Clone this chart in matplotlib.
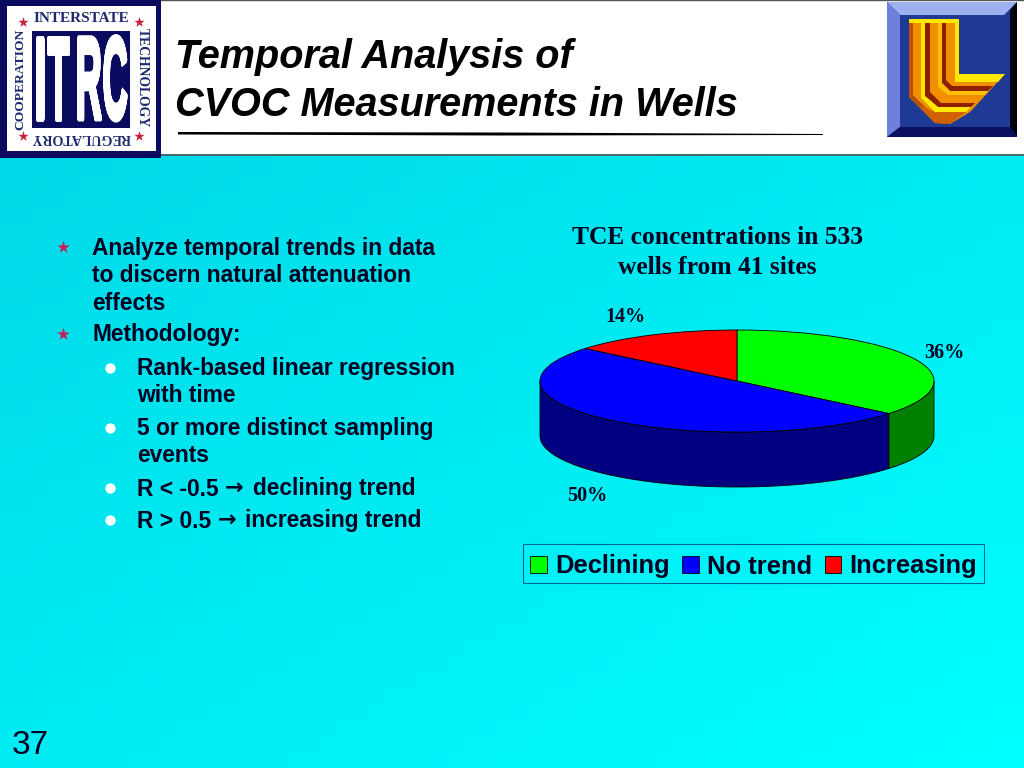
import numpy as np
import matplotlib
matplotlib.use("Agg")
import matplotlib.pyplot as plt
import matplotlib.patheffects as pe
from matplotlib.patches import Polygon, Rectangle

# === data ===
categories = ["Declining", "No trend", "Increasing"]
percentages = [36, 50, 14]
top_colors = ["#00FF00", "#0000FF", "#FF0000"]
side_colors = ["#008000", "#000080", "#800000"]

title_lines = ["Temporal Analysis of", "CVOC Measurements in Wells"]
chart_title = ["TCE concentrations in 533", "wells from 41 sites"]
page_number = "37"

star_items = [("Analyze temporal trends in data", 247), ("to discern natural attenuation", 275),
              ("effects", 302), ("Methodology:", 334)]
dot_items = [("Rank-based linear regression", 368), ("with time", 395),
             ("5 or more distinct sampling", 428), ("events", 455),
             ("R < -0.5", 488), ("R > 0.5", 520)]
arrow_items = [("declining trend", 488, 234, 253), ("increasing trend", 520, 227, 245)]
star_y = [247, 334]
dot_y = [368, 428, 488, 520]

# pie geometry in pixels
CX, CY, RX, RY, DEPTH = 737, 381, 197, 51, 55
SANS = "Liberation Sans"
SERIF = "Liberation Serif"
INK = "#000020"

fig = plt.figure(figsize=(10.24, 7.68), dpi=100)
ax = fig.add_axes([0, 0, 1, 1])
ax.set_xlim(0, 1024)
ax.set_ylim(768, 0)
ax.axis("off")

# background gradient
gx, gy = np.meshgrid(np.linspace(0, 1, 64), np.linspace(0, 1, 48))
g = 0.45 * gx + 0.55 * gy
bg = np.dstack([np.zeros_like(g), (212 + 43 * g) / 255, (228 + 27 * g) / 255])
ax.imshow(bg, extent=(0, 1024, 768, 0), aspect="auto", zorder=0)

# header band
ax.add_patch(Rectangle((160, 0), 864, 154, fc="white", ec="none", zorder=1))
ax.plot([160, 1024], [154.5, 154.5], color="#555555", lw=1.2, zorder=2)
ax.plot([160, 1024], [0.3, 0.3], color="#555555", lw=1, zorder=2)

ax.text(175, 57, title_lines[0], family=SANS, weight="bold", style="italic", fontsize=28.5,
        va="center", ha="left", color="black", zorder=3)
ax.text(175, 105, title_lines[1], family=SANS, weight="bold", style="italic", fontsize=28.5,
        va="center", ha="left", color="black", zorder=3)
ax.add_patch(Polygon([(178, 132), (500, 132.5), (823, 134), (823, 135), (500, 135.5), (178, 134.5)],
                     fc="black", ec="none", zorder=3))


# === ITRC logo ===
def squeeze(sx):
    # narrows a drawn letter sideways about its own centre
    def flt(im, dpi):
        h, w = im.shape[:2]
        nw = max(int(round(w * sx)), 1)
        pos = (np.arange(nw) + 0.5) / sx - 0.5
        out = np.zeros((h, nw, im.shape[2]), dtype=im.dtype)
        for r in range(h):
            for c in range(im.shape[2]):
                out[r, :, c] = np.interp(pos, np.arange(w), im[r, :, c])
        return out, int((w - nw) / 2), 0
    return flt


ax.add_patch(Rectangle((0, 0), 161, 158, fc="#0A0A5E", ec="none", zorder=2))
ax.add_patch(Rectangle((7, 6), 149, 145, fc="white", ec="none", zorder=2))
ax.add_patch(Rectangle((32, 31), 98, 97, fc="#0A0A5E", ec="none", zorder=3))
for letter, lx, sx in [("I", 40.5, 0.36), ("T", 58, 0.31), ("R", 87, 0.31), ("C", 114.5, 0.30)]:
    t = ax.text(lx, 88, letter, family=SANS, weight="bold", fontsize=83, color="white",
                ha="center", va="center", zorder=4)
    t.set_path_effects([pe.withStroke(linewidth=5, foreground="white")])
    t.set_agg_filter(squeeze(sx))
logo_kw = dict(family=SERIF, weight="bold", color="#1E2A6E", ha="center", va="center", zorder=4)
ax.text(81, 18, "INTERSTATE", fontsize=11, **logo_kw)
ax.text(81, 137, "REGULATORY", rotation=180, fontsize=10.2, **logo_kw)
ax.text(20, 79, "COOPERATION", rotation=90, fontsize=9.7, **logo_kw)
ax.text(142, 78, "TECHNOLOGY", rotation=-90, fontsize=9.8, **logo_kw)
ax.scatter([23, 139, 23, 139], [22, 22, 136, 136], marker="*", s=60, color="#C8203C", lw=0, zorder=4)

# === L logo ===
ax.add_patch(Rectangle((887, 2), 130, 135, fc="#1F3A94", ec="none", zorder=2))
ax.add_patch(Polygon([(887, 2), (1017, 2), (1004, 15), (900, 15)], fc="#9DB0F0", ec="none", zorder=3))
ax.add_patch(Polygon([(887, 2), (900, 15), (900, 127), (887, 137)], fc="#6C80DC", ec="none", zorder=3))
ax.add_patch(Polygon([(1017, 2), (1017, 137), (1010, 127), (1010, 10)], fc="#000010", ec="none", zorder=3))
ax.add_patch(Polygon([(887, 137), (900, 127), (1010, 127), (1017, 137)], fc="#0A1260", ec="none", zorder=3))
ax.add_patch(Polygon([(909, 19), (959, 19), (959, 74), (1005, 74), (970, 112), (950, 124), (935, 123), (909, 97)],
                     fc="#F09000", ec="none", zorder=4))
for pts, col in [([(909, 19), (913, 19), (913, 95), (938, 120), (950, 124), (935, 123), (909, 97)], "#B85000"),
                 ([(918, 105), (935, 112), (966, 112), (950, 124), (935, 123)], "#D06000"),
                 ([(925, 19), (930, 19), (930, 92), (941, 103), (975, 103), (971, 107), (938, 107), (925, 96)], "#8C2000"),
                 ([(921, 19), (925, 19), (925, 96), (938, 107), (971, 107), (966, 112), (935, 112), (921, 98)], "#FFE800"),
                 ([(942, 19), (946, 19), (946, 80), (952, 86), (993, 86), (988, 91), (950, 91), (942, 83)], "#8C2000"),
                 ([(938, 19), (942, 19), (942, 83), (950, 91), (988, 91), (985, 95), (948, 95), (938, 87)], "#FFC000"),
                 ([(955, 19), (959, 19), (959, 74), (1005, 74), (998, 82), (955, 82)], "#FFE800"),
                 ([(909, 19), (959, 19), (959, 23), (909, 23)], "#FFE800")]:
    ax.add_patch(Polygon(pts, fc=col, ec="none", zorder=5))

# === bullet text ===
for label, y in star_items:
    ax.text(92, y + 1, label, family=SANS, weight="bold", fontsize=16.4, va="center", ha="left", color=INK, zorder=3)
for label, y in dot_items:
    ax.text(137, y + 1, label, family=SANS, weight="bold", fontsize=16.4, va="center", ha="left", color=INK, zorder=3)
for label, y, ax_x, lx in arrow_items:
    ax.text(ax_x, y, "\u2192", family="DejaVu Sans", weight="bold", fontsize=16, va="center", ha="center",
            color=INK, zorder=3)
    ax.text(lx, y + 1, label, family=SANS, weight="bold", fontsize=16.4, va="center", ha="left", color=INK, zorder=3)
ax.scatter([63] * len(star_y), star_y, marker="*", s=90, color="#C81E5A", lw=0, zorder=3)
ax.scatter([110] * len(dot_y), dot_y, marker="o", s=55, color="white", lw=0, zorder=3)

ax.text(12, 745, page_number, family=SANS, fontsize=24, va="center", ha="left", color=INK, zorder=3)

# === chart title ===
ax.text(717, 237, chart_title[0], family=SERIF, weight="bold", fontsize=18.4, ha="center", va="center",
        color=INK, zorder=3)
ax.text(717, 267, chart_title[1], family=SERIF, weight="bold", fontsize=18.4, ha="center", va="center",
        color=INK, zorder=3)

# === pie ===
PAD = 4  # px round the disc so edges do not clip
pie_ax = fig.add_axes([(CX - RX - PAD) / 1024, 1 - (CY + RY + DEPTH + PAD) / 768,
                       (2 * RX + 2 * PAD) / 1024, (2 * RY + DEPTH + 2 * PAD) / 768])
wedges, _ = pie_ax.pie(percentages, colors=top_colors, startangle=90, counterclock=False,
                       wedgeprops=dict(edgecolor="black", linewidth=0.6, zorder=3))
pie_ax.set_aspect("auto")
pie_ax.set_xlim(-1 - PAD / RX, 1 + PAD / RX)
pie_ax.set_ylim(-1 - DEPTH / RY - PAD / RY, 1 + PAD / RY)
pie_ax.patch.set_alpha(0)

# side wall: front half of the rim only
depth = DEPTH / RY
edges = np.cumsum([0] + percentages) * 3.6
for i, col in enumerate(side_colors):
    a, b = max(edges[i], 90), min(edges[i + 1], 270)
    if a >= b:
        continue
    t = np.radians(np.linspace(a, b, 120))
    xs = np.concatenate([np.sin(t), np.sin(t[::-1])])
    ys = np.concatenate([np.cos(t), np.cos(t[::-1]) - depth])
    pie_ax.fill(xs, ys, fc=col, ec="black", lw=0.6, zorder=2)

label_pos = [(944, 353), (587, 496), (625, 317)]
for val, (lx, ly) in zip(percentages, label_pos):
    ax.text(lx, ly, f"{val}%", family=SERIF, weight="bold", fontsize=14.5, ha="center", va="center",
            color=INK, zorder=3)

leg = fig.legend(wedges, categories, loc="center", bbox_to_anchor=(753.5 / 1024, 1 - 563.5 / 768), ncol=3,
                 prop=dict(family=SANS, weight="bold", size=18.4), frameon=True, fancybox=False,
                 facecolor="none", edgecolor="#004080", handlelength=0.66, handleheight=0.66,
                 handletextpad=0.3, columnspacing=0.5, borderpad=0.28, borderaxespad=0)
leg.get_frame().set_linewidth(0.8)
# legend text sits a bit high and "No trend" has no descender, so nudge by hand
for txt, dy in zip(leg.get_texts(), [-2.5, -3, -2.5]):
    txt.set_color(INK)
    txt.set_position((0, dy))
for h, dy in zip(leg.legend_handles, [-2, -2, -2]):
    h.set_y(h.get_y() + dy)

fig.savefig("out.png", dpi=100)
